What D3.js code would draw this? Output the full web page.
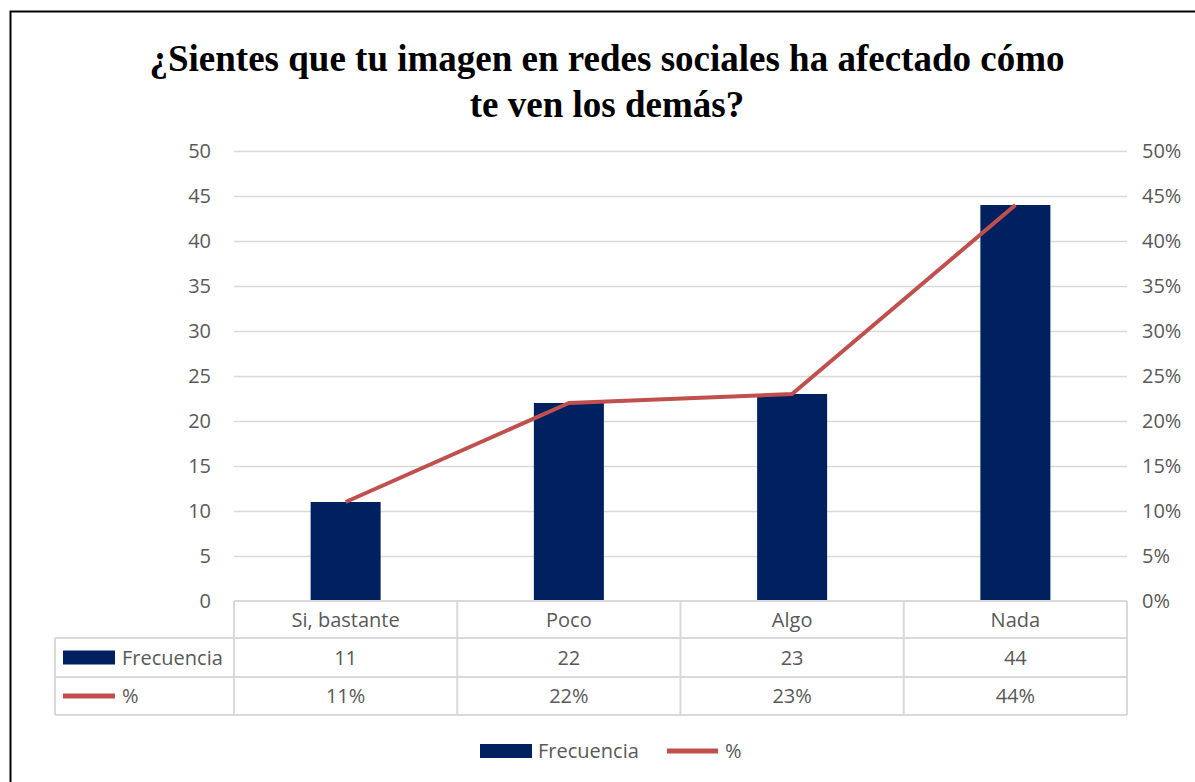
<!DOCTYPE html>
<html>
<head>
<meta charset="utf-8">
<script src="https://cdn.jsdelivr.net/npm/d3@7"></script>
<style>
  body { margin: 0; background: #fff; }
  text { font-family: "Open Sans", sans-serif; }
</style>
</head>
<body>
<div class="chart"></div>
<script>
const categories = ["Si, bastante", "Poco", "Algo", "Nada"];
const frecuencia = [11, 22, 23, 44];
const porcentaje = [0.11, 0.22, 0.23, 0.44];
const leftTicks = [0, 5, 10, 15, 20, 25, 30, 35, 40, 45, 50];
const rightTicks = [0, 0.05, 0.10, 0.15, 0.20, 0.25, 0.30, 0.35, 0.40, 0.45, 0.50];

const data = categories.map((c, i) => ({cat: c, freq: frecuencia[i], pct: porcentaje[i]}));

const W = 1195, H = 782;
const margin = ({top: 151, right: 68, bottom: 181, left: 234});
const width = W - margin.left - margin.right;
const height = H - margin.top - margin.bottom;

const textColor = "#595959";
const gridColor = "#d9d9d9";
const barColor = "#002060";
const lineColor = "#c0504d";
const fs = 20;

const svg = d3.select(".chart")
    .append("svg")
    .attr("width", W)
    .attr("height", H);

// outer chart border
svg.append("rect")
    .attr("x", 10.5).attr("y", 11.5)
    .attr("width", W + 20).attr("height", H + 20)
    .attr("fill", "none")
    .attr("stroke", "#000")
    .attr("stroke-width", 2);

// title
const title = svg.append("text")
    .attr("text-anchor", "middle")
    .attr("font-size", 37)
    .attr("font-weight", "bold")
    .style("font-family", "'Liberation Serif', 'Times New Roman', serif")
    .attr("fill", "#000");
title.append("tspan").attr("x", 607).attr("y", 71)
    .text("¿Sientes que tu imagen en redes sociales ha afectado cómo");
title.append("tspan").attr("x", 607).attr("y", 117)
    .text("te ven los demás?");

const g = svg.append("g")
    .attr("transform", `translate(${margin.left},${margin.top})`);

const xScale = d3.scaleBand()
    .domain(categories)
    .range([0, width])
    .paddingInner(0)
    .paddingOuter(0);

const yScale = d3.scaleLinear().domain([0, 50]).range([height, 0]);
const y2Scale = d3.scaleLinear().domain([0, 0.5]).range([height, 0]);

// gridlines
g.append("g")
    .selectAll("line")
    .data(leftTicks.slice(1))
    .join("line")
    .attr("x1", 0).attr("x2", width)
    .attr("y1", d => Math.round(yScale(d)) + 0.5)
    .attr("y2", d => Math.round(yScale(d)) + 0.5)
    .attr("stroke", gridColor)
    .attr("stroke-width", 1.5);

// left axis
const yAxis = d3.axisLeft(yScale).tickValues(leftTicks).tickSize(0).tickPadding(23);
g.append("g").call(yAxis)
    .call(a => a.select(".domain").remove())
    .selectAll("text")
    .attr("font-size", fs)
    .attr("fill", textColor)
    .style("font-family", "'Open Sans', sans-serif");

// right axis
const y2Axis = d3.axisRight(y2Scale).tickValues(rightTicks).tickSize(0).tickPadding(15)
    .tickFormat(d3.format(".0%"));
g.append("g").attr("transform", `translate(${width},0)`).call(y2Axis)
    .call(a => a.select(".domain").remove())
    .selectAll("text")
    .attr("font-size", fs)
    .attr("fill", textColor)
    .style("font-family", "'Open Sans', sans-serif");

// bars
const barW = 70;
g.selectAll("rect.bar")
    .data(data)
    .join("rect")
    .attr("class", "bar")
    .attr("x", d => xScale(d.cat) + xScale.bandwidth() / 2 - barW / 2)
    .attr("y", d => yScale(d.freq))
    .attr("width", barW)
    .attr("height", d => height - yScale(d.freq))
    .attr("fill", barColor);

// line
const line = d3.line()
    .x(d => xScale(d.cat) + xScale.bandwidth() / 2)
    .y(d => y2Scale(d.pct));
g.append("path")
    .datum(data)
    .attr("fill", "none")
    .attr("stroke", lineColor)
    .attr("stroke-width", 4)
    .attr("stroke-linejoin", "round")
    .attr("d", line);

// data table
const rowH = [37, 39, 38];
const tableTop = height;
const labelLeft = 55 - margin.left;
const tbl = g.append("g").attr("class", "table");
const borderColor = "#d9d9d9";

const rowY = [tableTop, tableTop + rowH[0], tableTop + rowH[0] + rowH[1], tableTop + rowH[0] + rowH[1] + rowH[2]];

// horizontal lines
tbl.append("line")
    .attr("x1", 0).attr("x2", width)
    .attr("y1", rowY[0]).attr("y2", rowY[0])
    .attr("stroke", borderColor).attr("stroke-width", 2);
[rowY[1], rowY[2], rowY[3]].forEach(y => {
    tbl.append("line")
        .attr("x1", labelLeft).attr("x2", width)
        .attr("y1", y).attr("y2", y)
        .attr("stroke", borderColor).attr("stroke-width", 2);
});
// vertical lines
const colX = categories.map(c => xScale(c)).concat([width]);
colX.forEach(x => {
    tbl.append("line")
        .attr("x1", x).attr("x2", x)
        .attr("y1", rowY[0]).attr("y2", rowY[3])
        .attr("stroke", borderColor).attr("stroke-width", 2);
});
tbl.append("line")
    .attr("x1", labelLeft).attr("x2", labelLeft)
    .attr("y1", rowY[1]).attr("y2", rowY[3])
    .attr("stroke", borderColor).attr("stroke-width", 2);

const cellText = (sel, y) => sel
    .attr("text-anchor", "middle")
    .attr("y", y)
    .attr("dy", "0.35em")
    .attr("font-size", fs)
    .attr("fill", textColor);

tbl.selectAll("text.cat").data(data).join("text").attr("class", "cat")
    .attr("x", d => xScale(d.cat) + xScale.bandwidth() / 2)
    .call(cellText, (rowY[0] + rowY[1]) / 2)
    .text(d => d.cat);
tbl.selectAll("text.freq").data(data).join("text").attr("class", "freq")
    .attr("x", d => xScale(d.cat) + xScale.bandwidth() / 2)
    .call(cellText, (rowY[1] + rowY[2]) / 2)
    .text(d => d.freq);
tbl.selectAll("text.pct").data(data).join("text").attr("class", "pct")
    .attr("x", d => xScale(d.cat) + xScale.bandwidth() / 2)
    .call(cellText, (rowY[2] + rowY[3]) / 2)
    .text(d => d3.format(".0%")(d.pct));

// row labels with keys
const keyX = labelLeft + 8;
tbl.append("rect")
    .attr("x", keyX).attr("y", (rowY[1] + rowY[2]) / 2 - 7)
    .attr("width", 52).attr("height", 14)
    .attr("fill", barColor);
tbl.append("text")
    .attr("x", keyX + 59).attr("y", (rowY[1] + rowY[2]) / 2)
    .attr("dy", "0.35em").attr("font-size", fs).attr("fill", textColor)
    .text("Frecuencia");
tbl.append("line")
    .attr("x1", keyX).attr("x2", keyX + 52)
    .attr("y1", (rowY[2] + rowY[3]) / 2).attr("y2", (rowY[2] + rowY[3]) / 2)
    .attr("stroke", lineColor).attr("stroke-width", 5);
tbl.append("text")
    .attr("x", keyX + 59).attr("y", (rowY[2] + rowY[3]) / 2)
    .attr("dy", "0.35em").attr("font-size", fs).attr("fill", textColor)
    .text("%");

// legend
const legend = svg.append("g");
const legY = 751;
legend.append("rect")
    .attr("x", 480).attr("y", legY - 7)
    .attr("width", 52).attr("height", 14)
    .attr("fill", barColor);
legend.append("text")
    .attr("x", 538).attr("y", legY).attr("dy", "0.35em")
    .attr("font-size", fs).attr("fill", textColor)
    .text("Frecuencia");
legend.append("line")
    .attr("x1", 667).attr("x2", 718)
    .attr("y1", legY).attr("y2", legY)
    .attr("stroke", lineColor).attr("stroke-width", 5);
legend.append("text")
    .attr("x", 725).attr("y", legY).attr("dy", "0.35em")
    .attr("font-size", fs).attr("fill", textColor)
    .text("%");
</script>
</body>
</html>
